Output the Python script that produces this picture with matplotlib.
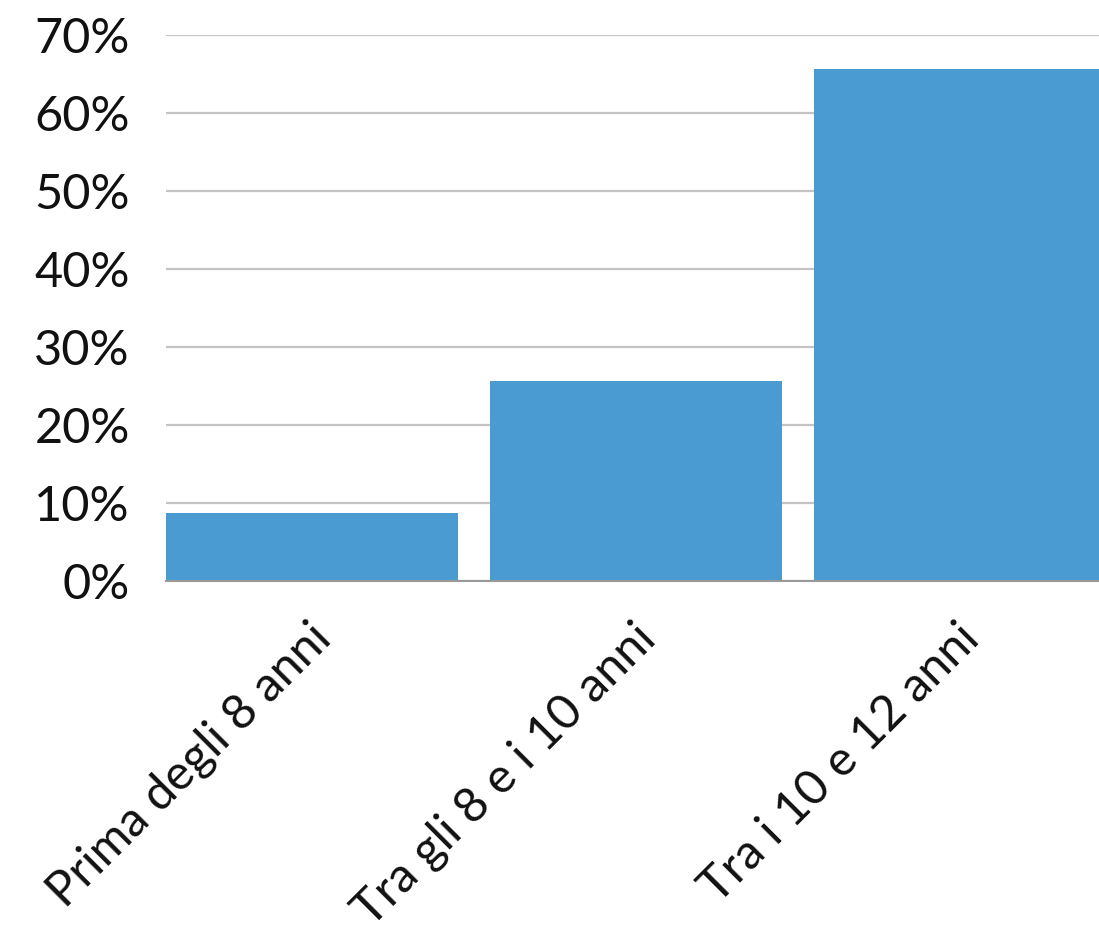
import matplotlib
matplotlib.use("Agg")
import matplotlib.pyplot as plt
import matplotlib.transforms as mtransforms
from matplotlib.ticker import FuncFormatter

categories = ["Prima degli 8 anni", "Tra gli 8 e i 10 anni", "Tra i 10 e 12 anni"]
values = [0.087, 0.257, 0.657]
y_ticks = [0.0, 0.1, 0.2, 0.3, 0.4, 0.5, 0.6, 0.7]

BAR_COLOR = "#4a9bd2"
GRID_COLOR = "#c4c4c4"

fig = plt.figure(figsize=(10.99, 9.34), dpi=100)
ax = fig.add_axes([0.151, 0.378, 0.849, 0.5845])

x = list(range(len(categories)))
ax.bar(x, values, width=0.9, color=BAR_COLOR, zorder=3)

ax.set_xlim(-0.45, 2.43)
ax.set_ylim(0, 0.70)
ax.set_yticks(y_ticks)
ax.yaxis.set_major_formatter(FuncFormatter(lambda v, _: f"{v * 100:.0f}%"))

ax.grid(axis="y", color=GRID_COLOR, linewidth=1.6, zorder=0)
ax.set_axisbelow(True)
for side in ("top", "right", "left"):
    ax.spines[side].set_visible(False)
ax.spines["bottom"].set_color("#999999")
ax.spines["bottom"].set_linewidth(1.5)
ax.spines["bottom"].set_zorder(4)

ax.tick_params(axis="y", length=0, pad=26, labelsize=35, labelcolor="#111111")
ax.tick_params(axis="x", length=0, pad=25)
for lab in ax.get_yticklabels():
    lab.set_fontfamily(["Lato", "DejaVu Sans"])

ax.set_xticks(x)
ax.set_xticklabels(categories, rotation=45, ha="right", va="top",
                   fontsize=35, fontfamily=["Lato", "DejaVu Sans"], color="#111111")
shift = mtransforms.ScaledTranslation(28 / 100, 0, fig.dpi_scale_trans)
for lab in ax.get_xticklabels():
    lab.set_transform(lab.get_transform() + shift)

fig.savefig("out.png", dpi=100, facecolor="white")
